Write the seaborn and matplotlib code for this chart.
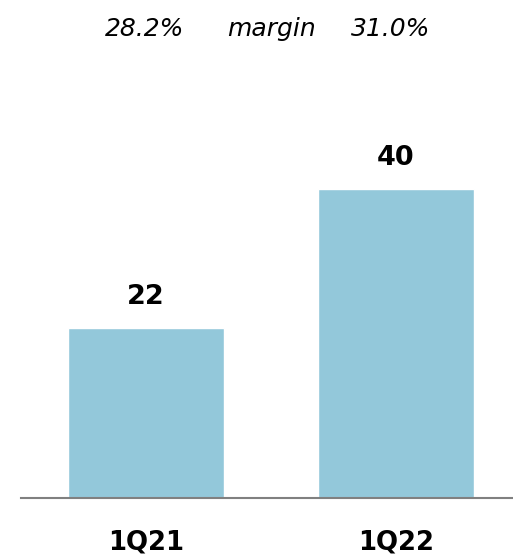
import matplotlib
matplotlib.use("Agg")
import matplotlib.pyplot as plt
import seaborn as sns
import pandas as pd

# Quarterly values and margin annotations
quarters = ["1Q21", "1Q22"]
values = [22, 40]
margins = ["28.2%", "31.0%"]
margin_word = "margin"

sns.set_theme(style="white")
plt.rcParams["font.family"] = ["DejaVu Sans"]

df = pd.DataFrame({"quarter": quarters, "value": values})

fig = plt.figure(figsize=(5.13, 5.60), dpi=100)
W, H = 513, 560
base_px = 498
ax = fig.add_axes([21 / W, (H - base_px) / H, 1 - 21 / W, 463.5 / H])

sns.barplot(data=df, x="quarter", y="value", color="#93C8DA",
            saturation=1, width=0.624, ax=ax)

ax.set_xlim(-0.5, 1.468)
ax.set_ylim(0, 60)
ax.set_xlabel("")
ax.set_ylabel("")
ax.set_yticks([])
ax.tick_params(axis="x", length=0, pad=23)
for lab in ax.get_xticklabels():
    lab.set_fontsize(18.7)
    lab.set_fontweight("bold")
    lab.set_color("black")

for side in ["top", "right", "left"]:
    ax.spines[side].set_visible(False)
ax.spines["bottom"].set_color("#808080")
ax.spines["bottom"].set_linewidth(1.5)

for cont in ax.containers:
    ax.bar_label(cont, labels=[f"{v:g}" for v in values], padding=13,
                 fontsize=19.5, fontweight="bold", color="black")

# margin line above the bars
ty = 1 - 36 / H
fig.text(144.5 / W, ty, margins[0], ha="center", va="baseline",
         fontsize=18, style="italic", color="black")
fig.text(272 / W, ty, margin_word, ha="center", va="baseline",
         fontsize=18, style="italic", color="black")
fig.text(391 / W, ty, margins[1], ha="center", va="baseline",
         fontsize=18, style="italic", color="black")

fig.savefig("out.png", dpi=100)
